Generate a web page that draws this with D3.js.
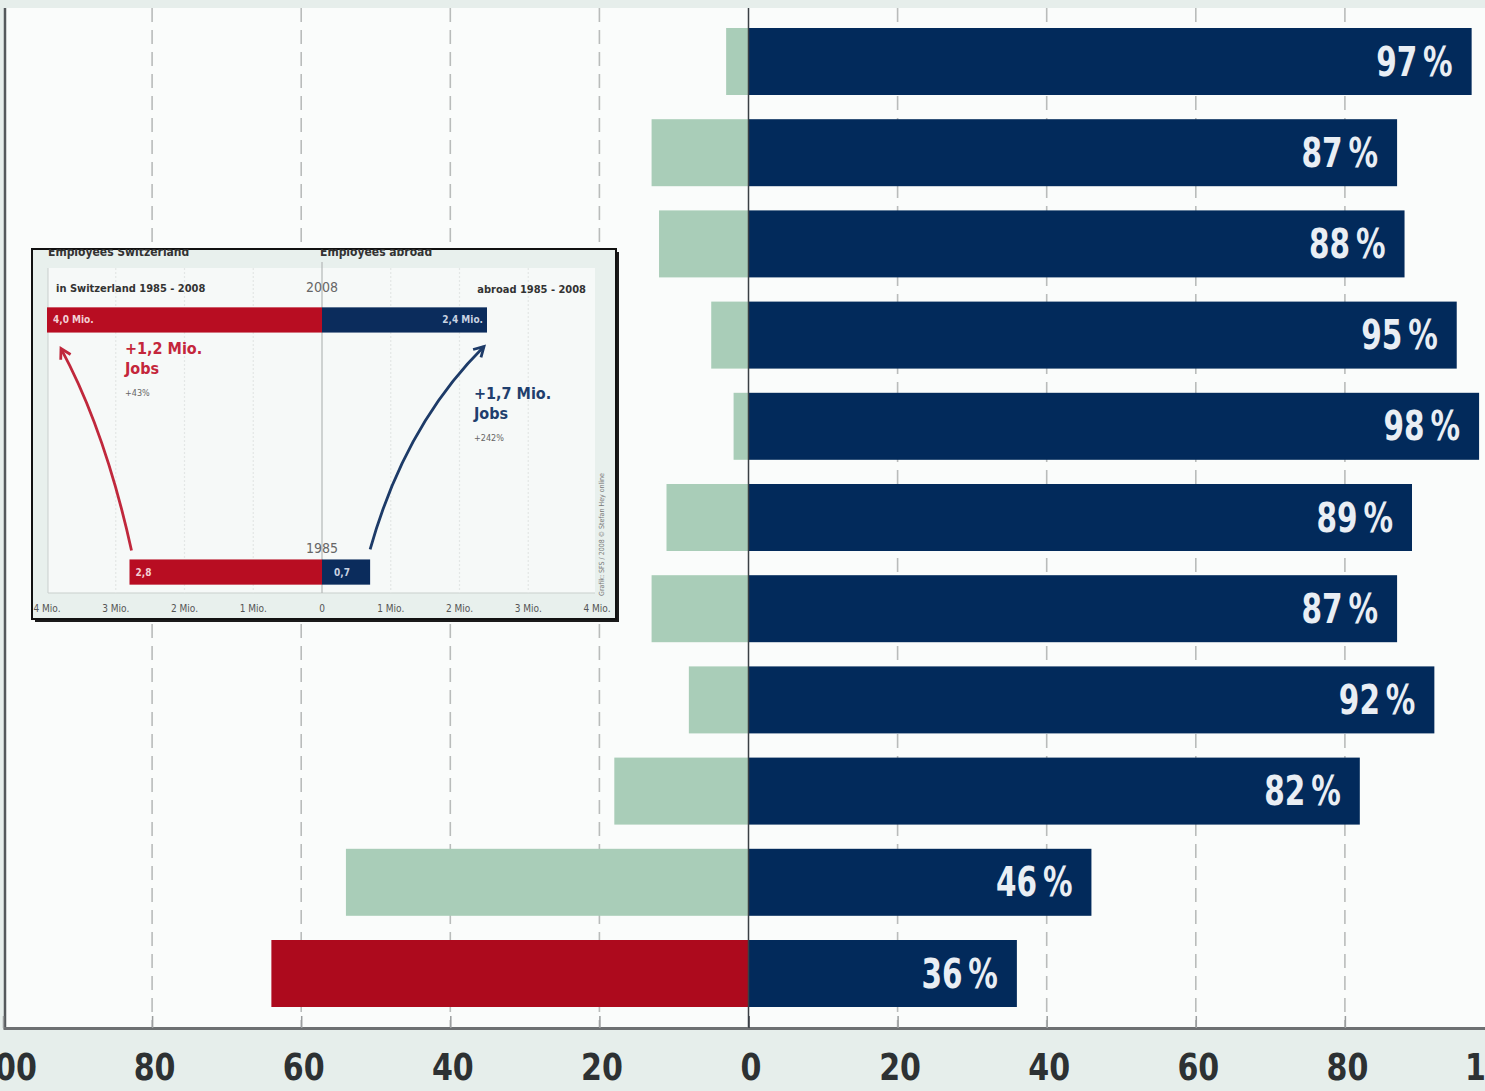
<!DOCTYPE html>
<html>
<head>
<meta charset="utf-8">
<script src="https://cdn.jsdelivr.net/npm/d3@7"></script>
<style>
  html, body { margin: 0; padding: 0; background: #e6eeeb; }
  svg { display: block; }
</style>
</head>
<body>
<svg id="chart" width="1485" height="1091"></svg>
<script>
// ---------- data ----------
const categories = ["1", "2", "3", "4", "5", "6", "7", "8", "9", "10", "11"];
const shareAbroad = [97, 87, 88, 95, 98, 89, 87, 92, 82, 46, 36];
const shareSwitzerland = [3, 13, 12, 5, 2, 11, 13, 8, 18, 54, 64];
const xTicks = [-100, -80, -60, -40, -20, 0, 20, 40, 60, 80, 100];
const xTickLabels = ["100", "80", "60", "40", "20", "0", "20", "40", "60", "80", "100"];

// inset data (employees, millions)
const insetYears = ["2008", "1985"];
const insetSwiss = [4.0, 2.8];
const insetAbroad = [2.4, 0.7];
const insetSwissLabels = ["4,0 Mio.", "2,8"];
const insetAbroadLabels = ["2,4 Mio.", "0,7"];
const insetTicks = [-4, -3, -2, -1, 0, 1, 2, 3, 4];
const insetTickLabels = ["4 Mio.", "3 Mio.", "2 Mio.", "1 Mio.", "0", "1 Mio.", "2 Mio.", "3 Mio.", "4 Mio."];

// ---------- styles ----------
const NAVY = "#022a5b", MINT = "#a9cdb8", RED = "#ad0a1d";
const FONT = "'DejaVu Sans Condensed', 'DejaVu Sans', sans-serif";

const svg = d3.select("#chart");
const plotTop = 8, plotBottom = 1028;

const x = d3.scaleLinear().domain([-100, 100]).range([3, 1494]);
const y = d3.scaleBand().domain(categories).range([15.9, 1019.1])
  .paddingInner(0.2654).paddingOuter(0.1327);

// plot background
svg.append("rect").attr("x", 5).attr("y", plotTop).attr("width", 1485).attr("height", plotBottom - plotTop)
  .attr("fill", "#fafcfb");

// dashed gridlines
svg.append("g").selectAll("line").data(xTicks.filter(d => d !== 0 && Math.abs(d) !== 100))
  .join("line")
  .attr("x1", d => x(d)).attr("x2", d => x(d))
  .attr("y1", plotTop).attr("y2", plotBottom)
  .attr("stroke", "#b9bcbb").attr("stroke-width", 1.6)
  .attr("stroke-dasharray", "14,8");

// bars: Switzerland (left)
svg.append("g").selectAll("rect").data(categories).join("rect")
  .attr("x", (d, i) => x(-shareSwitzerland[i]))
  .attr("y", d => y(d))
  .attr("width", (d, i) => x(0) - x(-shareSwitzerland[i]))
  .attr("height", y.bandwidth())
  .attr("fill", (d, i) => i === categories.length - 1 ? RED : MINT);

// bars: abroad (right)
svg.append("g").selectAll("rect").data(categories).join("rect")
  .attr("x", x(0))
  .attr("y", d => y(d))
  .attr("width", (d, i) => x(shareAbroad[i]) - x(0))
  .attr("height", y.bandwidth())
  .attr("fill", NAVY);

// value labels
svg.append("g").selectAll("text").data(categories).join("text")
  .attr("transform", (d, i) => `translate(${x(shareAbroad[i]) - 19},${y(d) + y.bandwidth() / 2 + 14}) scale(0.8,1)`)
  .attr("text-anchor", "end")
  .attr("fill", "#e9eef4")
  .attr("font-family", FONT).attr("font-weight", "bold").attr("font-size", 41)
  .text((d, i) => shareAbroad[i] + "\u2009%");

// zero line
svg.append("line").attr("x1", x(0)).attr("x2", x(0)).attr("y1", plotTop).attr("y2", plotBottom)
  .attr("stroke", "#3a3f44").attr("stroke-width", 1.5);

// left border
svg.append("line").attr("x1", 5).attr("x2", 5).attr("y1", plotTop).attr("y2", plotBottom + 1)
  .attr("stroke", "#55595c").attr("stroke-width", 2.5);

// x axis
const axis = d3.axisBottom(x).tickValues(xTicks).tickSize(0).tickPadding(0)
  .tickFormat((d, i) => xTickLabels[i]);
const gAxis = svg.append("g").attr("transform", `translate(0,${plotBottom})`).call(axis);
gAxis.select(".domain").attr("stroke", "#6d7072").attr("stroke-width", 3);
gAxis.selectAll(".tick text")
  .attr("dy", 0).attr("y", 0)
  .attr("transform", "translate(2,52) scale(0.88,1)")
  .attr("fill", "#2d3133")
  .attr("font-family", FONT).attr("font-size", 38).attr("font-weight", "bold");
// small upward ticks
gAxis.selectAll(".tick").append("line")
  .attr("y1", -12).attr("y2", 0)
  .attr("stroke", d => d === 0 ? "#3a3f44" : "#9a9d9e").attr("stroke-width", 1.5);

// ---------- inset ----------
const ib = { x: 32, y: 249, w: 584, h: 370 };
const inset = svg.append("g");
inset.append("defs").append("clipPath").attr("id", "insetClip")
  .append("rect").attr("x", ib.x).attr("y", ib.y).attr("width", ib.w).attr("height", ib.h);
// shadow
inset.append("rect").attr("x", ib.x + 3).attr("y", ib.y + 3).attr("width", ib.w).attr("height", ib.h)
  .attr("fill", "#1a1a1a");
inset.append("rect").attr("x", ib.x).attr("y", ib.y).attr("width", ib.w).attr("height", ib.h)
  .attr("fill", "#e8f0ed").attr("stroke", "#111").attr("stroke-width", 2);

const ig = inset.append("g").attr("clip-path", "url(#insetClip)");
const ix = d3.scaleLinear().domain([-4, 4]).range([47, 597]);
const iy = d3.scaleBand().domain(insetYears).range([296, 596]).paddingInner(0.9).paddingOuter(0.045);
const ipTop = 268, ipBottom = 593;

ig.append("rect").attr("x", 48).attr("y", ipTop).attr("width", 547).attr("height", ipBottom - ipTop)
  .attr("fill", "#f6f9f8");
ig.append("line").attr("x1", 48).attr("x2", 48).attr("y1", ipTop).attr("y2", ipBottom)
  .attr("stroke", "#c9cfcd").attr("stroke-width", 1);
ig.append("line").attr("x1", 48).attr("x2", 595).attr("y1", ipBottom).attr("y2", ipBottom)
  .attr("stroke", "#c9cfcd").attr("stroke-width", 1);
ig.append("g").selectAll("line").data(insetTicks.filter(d => d !== 0 && Math.abs(d) !== 4)).join("line")
  .attr("x1", d => ix(d)).attr("x2", d => ix(d)).attr("y1", ipTop).attr("y2", ipBottom)
  .attr("stroke", "#e3e7e6").attr("stroke-width", 1.2).attr("stroke-dasharray", "2,2");
ig.append("line").attr("x1", ix(0)).attr("x2", ix(0)).attr("y1", ipTop - 6).attr("y2", ipBottom)
  .attr("stroke", "#b4b8b7").attr("stroke-width", 1.2);

// clipped headers
ig.append("text").attr("x", 48).attr("y", 256).attr("font-family", FONT).attr("font-weight", "bold")
  .attr("font-size", 12).attr("fill", "#333").text("Employees Switzerland");
ig.append("text").attr("x", 320).attr("y", 256).attr("font-family", FONT).attr("font-weight", "bold")
  .attr("font-size", 12).attr("fill", "#333").text("Employees abroad");

ig.append("text").attr("x", 56).attr("y", 292).attr("font-family", FONT).attr("font-weight", "bold")
  .attr("font-size", 11).attr("fill", "#333").text("in Switzerland 1985 - 2008");
ig.append("text").attr("x", 586).attr("y", 293).attr("text-anchor", "end").attr("font-family", FONT)
  .attr("font-weight", "bold").attr("font-size", 11).attr("fill", "#333").text("abroad 1985 - 2008");
ig.append("text").attr("x", ix(0)).attr("y", 292).attr("text-anchor", "middle").attr("font-family", FONT)
  .attr("font-size", 14).attr("fill", "#666").text(insetYears[0]);
ig.append("text").attr("x", ix(0)).attr("y", 553).attr("text-anchor", "middle").attr("font-family", FONT)
  .attr("font-size", 14).attr("fill", "#666").text(insetYears[1]);

// inset bars
ig.append("g").selectAll("rect").data(insetYears).join("rect")
  .attr("x", (d, i) => ix(-insetSwiss[i])).attr("y", d => iy(d))
  .attr("width", (d, i) => ix(0) - ix(-insetSwiss[i])).attr("height", iy.bandwidth())
  .attr("fill", "#b80d22");
ig.append("g").selectAll("rect").data(insetYears).join("rect")
  .attr("x", ix(0)).attr("y", d => iy(d))
  .attr("width", (d, i) => ix(insetAbroad[i]) - ix(0)).attr("height", iy.bandwidth())
  .attr("fill", "#0b2c5c");
ig.append("g").selectAll("text").data(insetYears).join("text")
  .attr("x", (d, i) => ix(-insetSwiss[i]) + 6).attr("y", d => iy(d) + iy.bandwidth() / 2 + 3.5)
  .attr("font-family", FONT).attr("font-size", 10).attr("font-weight", "bold").attr("fill", "#f3d0d4")
  .text((d, i) => insetSwissLabels[i]);
ig.append("g").selectAll("text").data(insetYears).join("text")
  .attr("x", (d, i) => i === 0 ? ix(insetAbroad[i]) - 4 : ix(0) + 12)
  .attr("text-anchor", (d, i) => i === 0 ? "end" : "start")
  .attr("y", d => iy(d) + iy.bandwidth() / 2 + 3.5)
  .attr("font-family", FONT).attr("font-size", 10).attr("font-weight", "bold").attr("fill", "#c9d3e2")
  .text((d, i) => insetAbroadLabels[i]);

// inset axis labels
ig.append("g").selectAll("text").data(insetTicks).join("text")
  .attr("x", d => ix(d)).attr("y", 612).attr("text-anchor", "middle")
  .attr("font-family", FONT).attr("font-size", 10).attr("fill", "#555")
  .text((d, i) => insetTickLabels[i]);

// arrows
const defs = svg.append("defs");
function marker(id, color) {
  defs.append("marker").attr("id", id).attr("viewBox", "0 0 10 10").attr("refX", 8).attr("refY", 5)
    .attr("markerWidth", 5).attr("markerHeight", 5).attr("orient", "auto")
    .append("path").attr("d", "M1,1 L8,5 L1,9").attr("fill", "none").attr("stroke", color)
    .attr("stroke-width", 2);
}
marker("arrRed", "#c0283c");
marker("arrBlue", "#1d3b68");
const yBot = iy(insetYears[1]), yTop = iy(insetYears[0]) + iy.bandwidth();
const redPath = d3.path();
redPath.moveTo(ix(-insetSwiss[1]) + 2, yBot - 9);
redPath.quadraticCurveTo(105, 430, ix(-insetSwiss[0]) + 14, yTop + 16);
ig.append("path").attr("d", redPath.toString()).attr("fill", "none").attr("stroke", "#c0283c")
  .attr("stroke-width", 2.8).attr("marker-end", "url(#arrRed)");
const bluePath = d3.path();
bluePath.moveTo(ix(insetAbroad[1]), yBot - 10);
bluePath.quadraticCurveTo(405, 425, ix(insetAbroad[0]) - 3, yTop + 14);
ig.append("path").attr("d", bluePath.toString()).attr("fill", "none").attr("stroke", "#1d3b68")
  .attr("stroke-width", 2.8).attr("marker-end", "url(#arrBlue)");

// annotations
function note(xp, yp, color, lines) {
  const t = ig.append("g");
  t.append("text").attr("x", xp).attr("y", yp).attr("font-family", FONT).attr("font-size", 16)
    .attr("font-weight", "bold").attr("fill", color).text(lines[0]);
  t.append("text").attr("x", xp).attr("y", yp + 20).attr("font-family", FONT).attr("font-size", 16)
    .attr("font-weight", "bold").attr("fill", color).text(lines[1]);
  t.append("text").attr("x", xp).attr("y", yp + 42).attr("font-family", FONT).attr("font-size", 9)
    .attr("fill", "#666").text(lines[2]);
}
note(125, 354, "#c4263b", ["+1,2  Mio.", "Jobs", "+43%"]);
note(474, 399, "#1f3f6e", ["+1,7 Mio.", "Jobs", "+242%"]);

// source, vertical
ig.append("text").attr("transform", "translate(604,596) rotate(-90)")
  .attr("font-family", FONT).attr("font-size", 7).attr("fill", "#777")
  .text("Grafik: SFS / 2008 © Stefan Hey online");
</script>
</body>
</html>
